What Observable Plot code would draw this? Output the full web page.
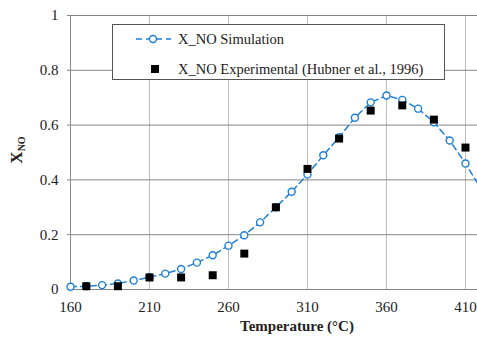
<!DOCTYPE html>
<html><head><meta charset="utf-8">
<script src="https://cdn.jsdelivr.net/npm/d3@7"></script>
<script src="https://cdn.jsdelivr.net/npm/@observablehq/plot@0.6"></script>
<style>
body{margin:0;background:#fff;}
#wrap{position:relative;width:477px;height:337px;font-family:"Liberation Serif",serif;}
#wrap svg text{font-family:"Liberation Serif",serif;}
#legend{position:absolute;left:112px;top:24px;width:333px;height:56px;background:#fff;border:1px solid #555;box-sizing:border-box;}
#legend svg{position:absolute;left:0;top:0;}
</style></head><body>
<div id="wrap"><div id="legend"></div></div>
<script>
const simT = [160,170,180,190,200,210,220,230,240,250,260,270,280,290,300,310,320,330,340,350,360,370,380,390,400,410,420];
const simX = [0.010,0.012,0.016,0.022,0.033,0.045,0.058,0.075,0.098,0.125,0.160,0.198,0.245,0.300,0.357,0.420,0.490,0.556,0.627,0.683,0.708,0.692,0.660,0.610,0.544,0.460,0.365];
const expT = [170,190,210,230,250,270,290,310,330,350,370,390,410];
const expX = [0.012,0.012,0.044,0.044,0.052,0.131,0.300,0.440,0.551,0.653,0.672,0.620,0.518];
const xTicks = [160,210,260,310,360,410];
const yTicks = [0,0.2,0.4,0.6,0.8,1];

const sim = simT.map((t,i)=>({t, x: simX[i]}));
const exp = expT.map((t,i)=>({t, x: expX[i]}));
const blue = "#1E7FD6";
const serif = '"Liberation Serif", serif';

const plot = Plot.plot({
  width: 477, height: 337,
  marginLeft: 70, marginRight: 0, marginTop: 15, marginBottom: 48,
  style: {fontFamily: serif, fontSize: "15px", color: "#222", background: "transparent", overflow: "visible"},
  x: {domain: [160, 417.6], ticks: xTicks},
  y: {domain: [0, 1], ticks: yTicks},
  marks: [
    Plot.gridX(xTicks, {stroke: "#bdbdbd", strokeOpacity: 1, strokeWidth: 1}),
    Plot.gridY(yTicks, {stroke: "#858585", strokeOpacity: 1, strokeWidth: 1}),
    Plot.ruleX([160], {stroke: "#8a8a8a"}),
    Plot.axisX(xTicks, {tickSize: 0, tickPadding: 12, label: null, tickFormat: d => String(d), fill: "#222", fontSize: 15}),
    Plot.axisY(yTicks, {tickSize: 3, stroke: "#858585", tickPadding: 9, label: null, tickFormat: d => String(d), fill: "#222", fontSize: 15}),
    Plot.line(sim, {x: "t", y: "x", stroke: blue, strokeWidth: 1.5, strokeDasharray: "6,4", clip: true}),
    Plot.dot(sim, {x: "t", y: "x", r: 3.5, stroke: blue, fill: "#fff", strokeWidth: 1.4}),
    Plot.dot(exp, {x: "t", y: "x", symbol: "square", r: 4.5, fill: "#000", stroke: "none"})
  ]
});
document.getElementById("wrap").prepend(plot);

const svg = d3.select(plot);
svg.selectAll("text").attr("font-family", serif);
svg.append("text").attr("x", 297).attr("y", 331).attr("font-family", serif)
  .attr("text-anchor", "middle").attr("font-weight", "bold").attr("font-size", 15).attr("fill", "#222")
  .text("Temperature (°C)");
const yl = svg.append("text").attr("transform", "translate(22,150) rotate(-90)").attr("font-family", serif)
  .attr("text-anchor", "middle").attr("font-weight", "bold").attr("font-size", 17).attr("fill", "#222");
yl.append("tspan").text("X");
yl.append("tspan").attr("font-size", 10).attr("dy", 3).text("NO");

// legend
const lg = d3.select("#legend").append("svg").attr("width", 333).attr("height", 56);
lg.append("line").attr("x1", 23).attr("x2", 58).attr("y1", 14).attr("y2", 14)
  .attr("stroke", blue).attr("stroke-width", 1.5).attr("stroke-dasharray", "6,4");
lg.append("circle").attr("cx", 40).attr("cy", 14).attr("r", 3.5).attr("fill", "#fff").attr("stroke", blue).attr("stroke-width", 1.4);
lg.append("text").attr("x", 65).attr("y", 19).attr("font-family", serif).attr("font-size", 14.5).attr("fill", "#222").text("X_NO Simulation");
lg.append("rect").attr("x", 38).attr("y", 40).attr("width", 8).attr("height", 8).attr("fill", "#000");
lg.append("text").attr("x", 65).attr("y", 49).attr("font-family", serif).attr("font-size", 14.5).attr("fill", "#222").text("X_NO Experimental (Hubner et al., 1996)");
</script>
</body></html>
